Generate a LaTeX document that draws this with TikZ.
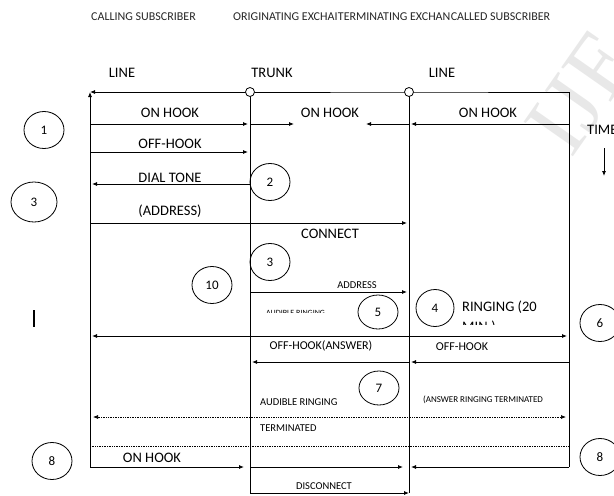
\documentclass[tikz,border=0pt]{standalone}
\usepackage{fontspec}
\setmainfont{Carlito}
\newfontfamily\wmfont{Liberation Serif}
\usetikzlibrary{arrows.meta,positioning,shapes.geometric}
\definecolor{wmgray}{RGB}{232,232,232}

\tikzset{
  hdr/.style={font=\fontsize{12}{12}\selectfont,inner sep=0pt,text=black!85},
  lbl/.style={font=\fontsize{14.5}{15}\selectfont,inner sep=0pt},
  mid/.style={font=\fontsize{12}{12}\selectfont,inner sep=0pt},
  sml/.style={font=\fontsize{10.5}{11}\selectfont,inner sep=0pt},
  tny/.style={font=\fontsize{9}{9}\selectfont,inner sep=0pt},
  stage/.style={draw,ellipse,line width=0.8pt,minimum width=40pt,minimum height=37pt,inner sep=0pt,font=\fontsize{13}{13}\selectfont},
  junc/.style={draw,circle,fill=white,minimum size=9pt,inner sep=0pt,line width=0.8pt},
  wire/.style={line width=0.8pt},
  sig/.style={line width=0.8pt,-{Latex[length=5pt,width=4pt]},shorten >=2pt},
  dots/.style={line width=0.7pt,densely dotted},
}

\begin{document}
\begin{tikzpicture}[x=1pt,y=-1pt]
\useasboundingbox (0,0) rectangle (614,496);
% watermark
\node[rotate=55,text=wmgray,font=\wmfont\fontsize{92}{92}\selectfont] (wm) at (582,92) {IJE};

% header
\node[hdr,anchor=west] (h1) at (91,17) {CALLING SUBSCRIBER};
\node[hdr,anchor=west] (h2) at (233,17) {ORIGINATING EXCHAI};
\node[hdr,right=0pt of h2] (h3) {TERMINATING EXCHAN};
\node[hdr,right=0pt of h3] (h4) {CALLED SUBSCRIBER};
\node[lbl] (ln1) at (122,73) {LINE};
\node[lbl] (tr) at (272,73) {TRUNK};
\node[lbl] (ln2) at (442,73) {LINE};

% lanes and rows
\coordinate (la) at (90,92); \coordinate (lb) at (250,92);
\coordinate (lc) at (409,92); \coordinate (ld) at (569,92);
\coordinate (r1) at (0,124); \coordinate (r2) at (0,152);
\coordinate (r3) at (0,184); \coordinate (r4) at (0,223);
\coordinate (r5) at (0,292); \coordinate (r6) at (0,336);
\coordinate (r7) at (0,362); \coordinate (r8) at (0,417);
\coordinate (r9) at (0,446); \coordinate (r10) at (0,467);
\coordinate (r11) at (0,493);

\draw[wire,-{Latex[length=5pt,width=4pt]}] (lb) -- (la);
\draw[wire,-{Latex[length=5pt,width=4pt]}] (la |- r10) -- (la);
\draw[wire] (lb) -- (lc) -- (ld) -- (ld |- r10);
\draw[wire] (lb) -- (lb |- r11);
\draw[wire] (lc) -- (lc |- r11);
\node[junc] (jb) at (lb) {};
\node[junc] (jc) at (lc) {};

% signals
\coordinate (oh1) at (296,124); \coordinate (oh2) at (364,124);
\draw[sig] (la |- r1) -- (lb |- r1); \draw[sig] (lb |- r1) -- (oh1);
\draw[sig] (ld |- r1) -- (lc |- r1); \draw[sig] (lc |- r1) -- (oh2);
\draw[sig] (la |- r2) -- (lb |- r2);
\draw[sig] (lb |- r3) -- (la |- r3);
\draw[sig] (la |- r4) -- (lc |- r4);
\draw[sig] (lb |- r5) -- (lc |- r5);
\draw[sig,{Latex[length=5pt,width=4pt]}-{Latex[length=5pt,width=4pt]},shorten <=2pt] (la |- r6) -- (ld |- r6);
\draw[sig] (ld |- r7) -- (lc |- r7); \draw[sig] (lc |- r7) -- (lb |- r7);
\draw[dots,{Latex[length=5pt,width=4pt]}-{Latex[length=5pt,width=4pt]},shorten <=3pt,shorten >=3pt] (la |- r8) -- (ld |- r8);
\draw[dots] (la |- r9) -- (ld |- r9);
\draw[sig,shorten >=6pt] (la |- r10) -- (lb |- r10); \draw[sig,shorten >=6pt] (lb |- r10) -- (lc |- r10);
\draw[sig] (ld |- r10) -- (lc |- r10);
\draw[sig,shorten >=0pt] (lb |- r11) -- (lc |- r11);

% labels
\node[lbl] (t1) at (170,113) {ON HOOK};
\node[lbl] (t2) at (330,113) {ON HOOK};
\node[lbl] (t3) at (488,113) {ON HOOK};
\node[lbl] (t4) at (170,144) {OFF-HOOK};
\node[lbl] (t5) at (170,178) {DIAL TONE};
\node[lbl] (t6) at (170,211) {(ADDRESS)};
\node[lbl] (t7) at (330,234) {CONNECT};
\node[sml] (t8) at (357,285) {ADDRESS};
\node[lbl,anchor=west] (t9) at (462,307) {RINGING (20};
\node[mid] (t10) at (321,346) {OFF-HOOK(ANSWER)};
\node[mid] (t11) at (462,347) {OFF-HOOK};
\node[sml,anchor=west] (t12) at (260,402) {AUDIBLE RINGING};
\node[tny] (t13) at (483,400) {(ANSWER RINGING TERMINATED};
\node[sml,anchor=west] (t14) at (260,428) {TERMINATED};
\node[lbl] (t15) at (152,458) {ON HOOK};
\node[sml] (t16) at (324,486) {DISCONNECT};
\node[lbl,anchor=west] (tm) at (587,130) {TIME};
\coordinate (tm1) at (604,148); \coordinate (tm2) at (604,176);
\draw[sig,shorten >=0pt] (tm1) -- (tm2);
\begin{scope}
  \clip (255,300) rectangle (335,312.5);
  \node[anchor=base west,inner sep=0pt,font=\fontsize{8}{8}\selectfont] (t17) at (266,315) {AUDIBLE RINGING};
\end{scope}
\begin{scope}
  \clip (455,300) rectangle (550,324.5);
  \node[lbl,anchor=base west] (t18) at (462,331) {MIN.)};
\end{scope}
\coordinate (cur1) at (34,310); \coordinate (cur2) at (34,327);
\draw[line width=1.3pt] (cur1) -- (cur2);

% stages
\node[stage] (s1) at (44,130) {1};
\node[stage,minimum width=46pt,minimum height=40pt] (s3a) at (34,202) {3};
\node[stage] (s2) at (270,182) {2};
\node[stage] (s3b) at (270,262) {3};
\node[stage] (s10) at (212,285) {10};
\node[stage,minimum height=34pt] (s5) at (378,312) {5};
\node[stage,minimum width=38pt] (s4) at (435,308) {4};
\node[stage] (s6) at (600,323) {6};
\node[stage,minimum height=34pt] (s7) at (379,388) {7};
\node[stage] (s8a) at (52,461) {8};
\node[stage] (s8b) at (600,457) {8};
\end{tikzpicture}
\end{document}
